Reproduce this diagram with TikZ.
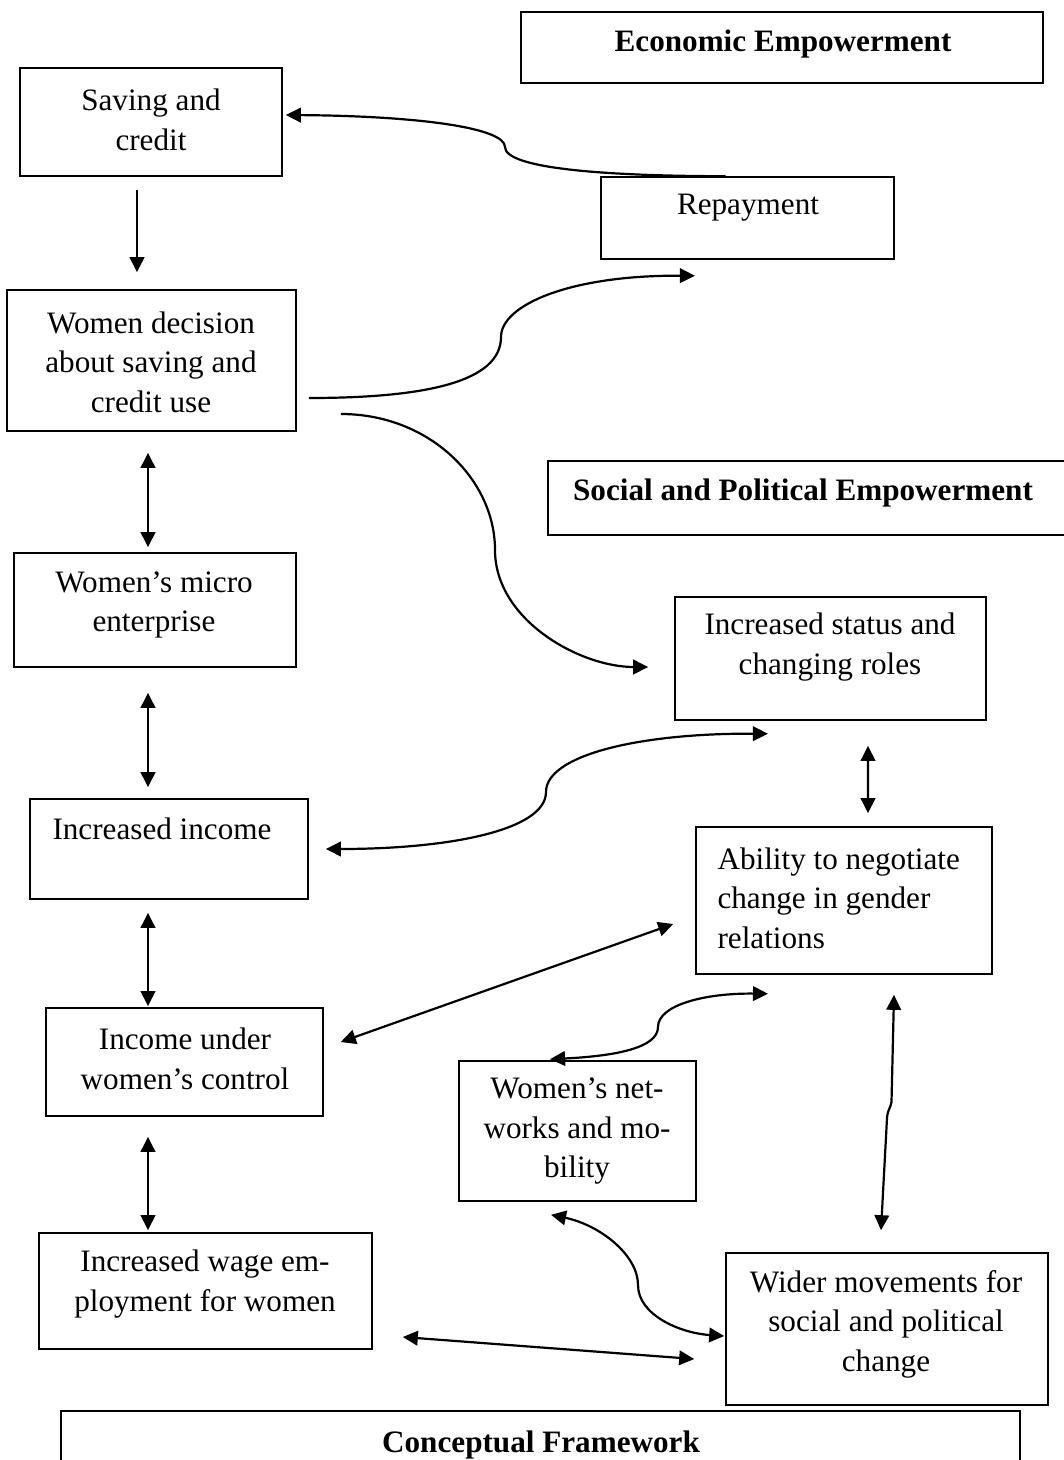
\documentclass[tikz,border=0pt]{standalone}
\usepackage{fontspec}
\setmainfont{Liberation Serif}
\usetikzlibrary{arrows.meta,fit}

\tikzset{
  box/.style={draw, line width=0.6pt, inner sep=0pt},
  lbl/.style={inner sep=0pt, align=center, font=\fontsize{12}{15.2}\selectfont},
  head/.style={lbl, font=\fontsize{12}{15.2}\selectfont\bfseries},
  link/.style={line width=0.85pt, -{Triangle[length=5.8pt,width=5.6pt]}},
  both/.style={line width=0.85pt, {Triangle[length=5.8pt,width=5.6pt]}-{Triangle[length=5.8pt,width=5.6pt]}}
}

\begin{document}
\begin{tikzpicture}[x=0.385pt, y=-0.385pt]
				\useasboundingbox (0,0) rectangle (1064,1460);
				\clip (0,0) rectangle (1064,1460);
				\node[box, fit={(521,12) (1043,83)}] (econ) {};
				\node[box, fit={(20,68) (282,176)}] (save) {};
				\node[box, fit={(601,177) (894,259)}] (rep) {};
				\node[box, fit={(7,290) (296,431)}] (dec) {};
				\node[box, fit={(548,461) (1080,535)}] (social) {};
				\node[box, fit={(14,553) (296,667)}] (micro) {};
				\node[box, fit={(675,597) (986,720)}] (status) {};
				\node[box, fit={(30,799) (308,899)}] (inc) {};
				\node[box, fit={(696,827) (992,974)}] (abil) {};
				\node[box, fit={(46,1008) (323,1116)}] (under) {};
				\node[box, fit={(459,1061) (696,1201)}] (net) {};
				\node[box, fit={(39,1233) (372,1349)}] (wage) {};
				\node[box, fit={(726,1253) (1048,1405)}] (wider) {};
				\node[box, fit={(61,1411) (1020,1480)}] (concept) {};
				\node[head, anchor=base] (econ-t) at (783,52) {Economic Empowerment};
				\node[lbl] (save-t) at (151,120) {Saving and\\credit};
				\node[lbl, anchor=base] (rep-t) at (748,215) {Repayment};
				\node[lbl] (dec-t) at (151,362) {Women decision\\about saving and\\credit use};
				\node[head, anchor=base] (social-t) at (803,500) {Social and Political Empowerment};
				\node[lbl] (micro-t) at (154,605) {Women’s micro\\enterprise};
				\node[lbl] (status-t) at (830,647) {Increased status and\\changing roles};
				\node[lbl, anchor=base] (inc-t) at (162,839) {Increased income};
				\node[lbl, align=left, anchor=west] (abil-t) at (717,898) {Ability to negotiate\\change in gender\\relations};
				\node[lbl] (under-t) at (185,1059) {Income under\\women’s control};
				\node[lbl] (net-t) at (577,1131) {Women’s net-\\works and mo-\\bility};
				\node[lbl] (wage-t) at (205,1284) {Increased wage em-\\ployment for women};
				\node[lbl] (wider-t) at (886,1324) {Wider movements for\\social and political\\change};
				\node[head, anchor=base] (concept-t) at (541,1452) {Conceptual Framework};
				\draw[link] ([shift={(-14,13)}]save.south) -- ([shift={(-14.5,-17)}]dec.north);
				\draw[both] ([shift={(-3.5,21)}]dec.south) -- ([shift={(-7,-5)}]micro.north);
				\draw[both] ([shift={(-7,25)}]micro.south) -- ([shift={(-21,-11)}]inc.north);
				\draw[both] ([shift={(-21,13)}]inc.south) -- ([shift={(-36.5,-1)}]under.north);
				\draw[both] ([shift={(-36.5,20)}]under.south) -- ([shift={(-57.5,-2)}]wage.north);
				\draw[both] ([shift={(37.5,25)}]status.south) -- ([shift={(24,-13)}]abil.north);
				\draw[link] ([shift={(-22,0)}]rep.north) .. controls (600,176) and (505,168) .. (505,147) .. controls (505,128) and (420,116) .. ([shift={(3,-7)}]save.east);
				\draw[link] ([shift={(12,37.5)}]dec.east) .. controls (425,398) and (501,382) .. (501,337) .. controls (501,305) and (570,275) .. ([shift={(-52.5,16)}]rep.south);
				\draw[link] ([shift={(44,53.5)}]dec.east) .. controls (430,414) and (495,480) .. (495,550) .. controls (495,620) and (580,667) .. ([shift={(-26,8.5)}]status.west);
				\draw[both] ([shift={(17,0)}]inc.east) .. controls (450,849) and (546,830) .. (546,792) .. controls (546,755) and (640,733) .. ([shift={(-62.5,13)}]status.south);
				\draw[both] ([shift={(17,-20)}]under.east) -- ([shift={(-22,23.5)}]abil.west);
				\draw[both] ([shift={(-27.5,-1)}]net.north) .. controls (615,1056) and (658,1048) .. (658,1027) .. controls (658,1005) and (705,993) .. ([shift={(-76,19)}]abil.south);
				\draw[both] ([shift={(50,20)}]abil.south) -- (891.5,1102) .. controls (890.5,1108) and (887.5,1110) .. (887,1118) -- ([shift={(-6,-22)}]wider.north);
				\draw[both] ([shift={(-26.5,13)}]net.south) .. controls (600,1225) and (638,1255) .. (638,1285) .. controls (638,1315) and (680,1333) .. ([shift={(-1,7)}]wider.west);
				\draw[both] ([shift={(30,46)}]wage.east) -- ([shift={(-31,30)}]wider.west);
			\end{tikzpicture}
\end{document}
